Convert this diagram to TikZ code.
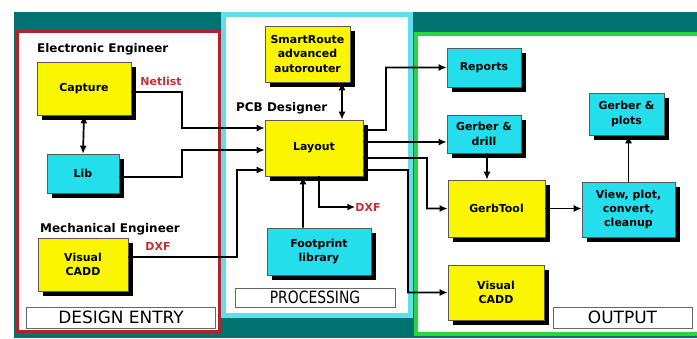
\documentclass[tikz,border=0pt]{standalone}
\usepackage{fontspec}
\usepackage{graphicx}
\usepackage{xcolor}
\usetikzlibrary{
	arrows.meta,
	shadows
}
\newfontfamily\diagfont{DejaVu Sans}
\definecolor{PanelTeal}{RGB}{0,114,112}
\definecolor{EntryRed}{RGB}{178,34,44}
\definecolor{ProcCyan}{RGB}{96,222,236}
\definecolor{OutGreen}{RGB}{40,214,64}
\definecolor{BoxYellow}{RGB}{250,246,0}
\definecolor{BoxCyan}{RGB}{36,222,236}
\definecolor{NoteRed}{RGB}{196,48,52}

\begin{document}
\begin{tikzpicture}[x=1bp, y=-1bp,
		box/.style={draw=black!65, line width=0.6bp, inner sep=0pt, align=center,
			font=\diagfont\bfseries\fontsize{11}{14.5}\selectfont,
			drop shadow={shadow xshift=5bp, shadow yshift=-5bp, fill=black, opacity=1}},
		ybox/.style={box, fill=BoxYellow},
		cbox/.style={box, fill=BoxCyan},
		who/.style={font=\diagfont\bfseries\fontsize{12}{14}\selectfont, anchor=west, inner sep=0pt},
		note/.style={font=\diagfont\bfseries\fontsize{11}{13}\selectfont, text=NoteRed, inner sep=0pt},
		title/.style={draw=black!60, line width=1bp, fill=white, inner sep=0pt, text=black,
			font=\diagfont\fontsize{17}{17}\selectfont},
		flow/.style={line width=1.7bp, -{Latex[length=8bp,width=7bp]}},
		flow2/.style={line width=1.7bp, {Latex[length=8bp,width=7bp]}-{Latex[length=8bp,width=7bp]}}]
		\useasboundingbox (0,0) rectangle (697,338);
		
		% 背景与三个区域
		\fill[PanelTeal] (14,12) rectangle (697,338);
		\draw[line width=3.5bp, EntryRed, fill=white] (17.5,31.5) rectangle (219.5,331.5);
		\draw[line width=5bp, ProcCyan, fill=white] (223.5,14.5) rectangle (410.5,315.5);
		\draw[line width=4bp, OutGreen, fill=white] (416,34) rectangle (703,334);
		
		% 设计输入
		\node[who] (ee) at (37,49) {Electronic Engineer};
		\node[ybox, minimum width=94bp, minimum height=53bp] (cap) at (84,88.5) {Capture};
		\node[note] (netlist) at (161,81) {Netlist};
		\node[cbox, minimum width=72bp, minimum height=39bp] (lib) at (83,173.5) {Lib};
		\node[who] (me) at (40,229) {Mechanical Engineer};
		\node[ybox, minimum width=90bp, minimum height=53bp] (vcl) at (83,264.5) {Visual\\CADD};
		\node[note] (dxfl) at (158,246) {DXF};
		\node[title, minimum width=188bp, minimum height=21bp] (entry) at (121,317.5) {DESIGN ENTRY};
		
		% 处理
		\node[ybox, minimum width=85bp, minimum height=56bp] (smart) at (307.5,54) {SmartRoute\\advanced\\autorouter};
		\node[who] (pcb) at (236,108) {PCB Designer};
		\node[ybox, minimum width=98bp, minimum height=56bp] (lay) at (314,148) {Layout};
		\node[note] (dxfr) at (368,207) {DXF};
		\node[cbox, minimum width=104bp, minimum height=47bp] (foot) at (319,251.5) {Footprint\\library};
		\node[title, minimum width=160bp, minimum height=19bp] (proc) at (315,297.5) {\scalebox{0.82}[1]{PROCESSING}};
		
		% 输出
		\node[cbox, minimum width=74bp, minimum height=39bp] (rep) at (484,67.5) {Reports};
		\node[cbox, minimum width=74bp, minimum height=38bp] (gdr) at (484,134) {Gerber \&\\drill};
		\node[ybox, minimum width=97bp, minimum height=57bp] (gt) at (496.5,208.5) {GerbTool};
		\node[cbox, minimum width=93bp, minimum height=55bp] (view) at (628.5,209.5) {View, plot,\\convert,\\cleanup};
		\node[cbox, minimum width=75bp, minimum height=42bp] (gpl) at (626.5,114) {Gerber \&\\plots};
		\node[ybox, minimum width=96bp, minimum height=55bp] (vcr) at (496,292.5) {Visual\\CADD};
		\node[title, minimum width=139bp, minimum height=21bp] (out) at (622.5,317.5) {OUTPUT};
		
		% 连线
		\draw[flow2] (cap.south) -- (lib.north);
		\draw[flow] ([yshift=-3.5bp]cap.east) -- (182,92) |- ([yshift=20bp]lay.west);
		\draw[flow] ([yshift=-3.5bp]lib.east) -- (182,177) |- ([yshift=-2bp]lay.west);
		\draw[flow] ([yshift=7.5bp]vcl.east) -- (237,257) |- ([yshift=-22bp]lay.west);
		\draw[flow2] ([xshift=34.5bp]smart.south) -- ([xshift=28bp]lay.north);
		\draw[flow] ([xshift=-16bp]foot.north) -- ([xshift=-11bp]lay.south);
		\draw[flow] ([xshift=5bp]lay.south) |- (dxfr.west);
		\draw[flow] ([yshift=18bp]lay.east) -- (386,130) |- (rep.west);
		\draw[flow] ([yshift=6bp]lay.east) -- ([yshift=-8bp]gdr.west);
		\draw[flow] ([yshift=-10bp]lay.east) -- (427,158) |- (gt.west);
		\draw[flow] ([yshift=-22bp]lay.east) -- (408,170) |- (vcr.west);
		\draw[flow] ([xshift=3bp]gdr.south) -- ([xshift=-9.5bp]gt.north);
		\draw[flow] (gt.east) -- (gt.east -| view.west);
		\draw[flow] (view.north) -- (view.north |- gpl.south);
	\end{tikzpicture}
\end{document}
